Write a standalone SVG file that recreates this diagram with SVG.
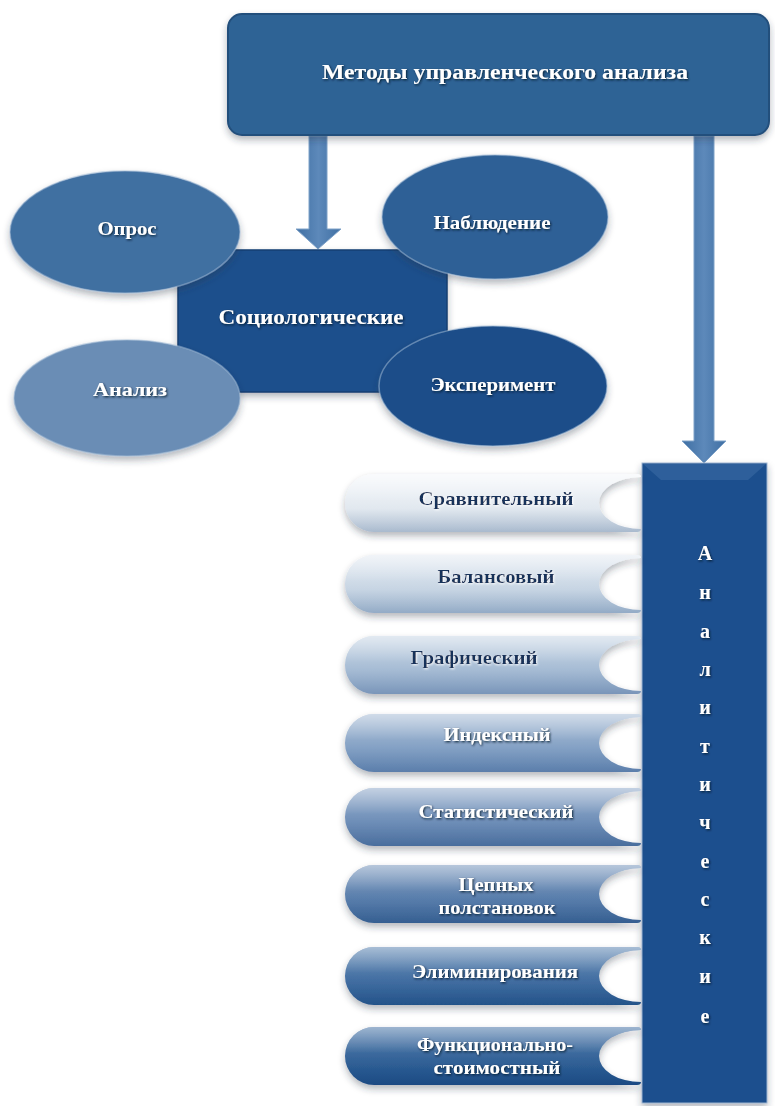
<svg xmlns="http://www.w3.org/2000/svg" xmlns:xlink="http://www.w3.org/1999/xlink" width="775" height="1106" viewBox="0 0 775 1106">
<style>
  .t { font-family: "Liberation Serif", "Times New Roman", serif; font-weight: bold; text-anchor: middle; }
  .w { fill: #ffffff; filter: url(#txtsh); }
  .d { fill: #16305a; filter: url(#txtglow); }
  .edge { stroke: #9fb8d4; stroke-opacity: 0.55; stroke-width: 1.5; }
</style>
<defs>
  <filter id="sh" x="-20%" y="-20%" width="140%" height="150%">
    <feDropShadow dx="0" dy="4" stdDeviation="3.5" flood-color="#2a3440" flood-opacity="0.35"/>
  </filter>
  <filter id="txtsh" x="-10%" y="-30%" width="120%" height="160%">
    <feDropShadow dx="1" dy="1.2" stdDeviation="0.8" flood-color="#061529" flood-opacity="0.9"/>
  </filter>
  <filter id="txtglow" x="-10%" y="-30%" width="120%" height="160%">
    <feDropShadow dx="0.8" dy="1" stdDeviation="0.9" flood-color="#ffffff" flood-opacity="1"/>
  </filter>
  <linearGradient id="gloss" x1="0" y1="0" x2="0" y2="1">
    <stop offset="0" stop-color="#ffffff" stop-opacity="0.5"/>
    <stop offset="0.45" stop-color="#ffffff" stop-opacity="0.1"/>
    <stop offset="1" stop-color="#ffffff" stop-opacity="0"/>
  </linearGradient>
  <linearGradient id="arrowg" x1="0" y1="0" x2="1" y2="0">
    <stop offset="0" stop-color="#3f6fa3"/>
    <stop offset="0.5" stop-color="#5d89ba"/>
    <stop offset="1" stop-color="#3f6fa3"/>
  </linearGradient>
  <linearGradient id="p1" x1="0" y1="0" x2="0" y2="1"><stop offset="0" stop-color="#f4f7fa"/><stop offset="0.6" stop-color="#dfe6ee"/><stop offset="1" stop-color="#a9bace"/></linearGradient>
  <linearGradient id="p2" x1="0" y1="0" x2="0" y2="1"><stop offset="0" stop-color="#e3eaf2"/><stop offset="0.6" stop-color="#c2d1e1"/><stop offset="1" stop-color="#93abc6"/></linearGradient>
  <linearGradient id="p3" x1="0" y1="0" x2="0" y2="1"><stop offset="0" stop-color="#c5d4e4"/><stop offset="0.6" stop-color="#9db5d0"/><stop offset="1" stop-color="#7995b9"/></linearGradient>
  <linearGradient id="p4" x1="0" y1="0" x2="0" y2="1"><stop offset="0" stop-color="#a2b8d3"/><stop offset="0.6" stop-color="#7898bf"/><stop offset="1" stop-color="#5b7eab"/></linearGradient>
  <linearGradient id="p5" x1="0" y1="0" x2="0" y2="1"><stop offset="0" stop-color="#88a3c6"/><stop offset="0.6" stop-color="#6184b1"/><stop offset="1" stop-color="#496d9d"/></linearGradient>
  <linearGradient id="p6" x1="0" y1="0" x2="0" y2="1"><stop offset="0" stop-color="#6f8fb8"/><stop offset="0.6" stop-color="#4a72a4"/><stop offset="1" stop-color="#355f91"/></linearGradient>
  <linearGradient id="p7" x1="0" y1="0" x2="0" y2="1"><stop offset="0" stop-color="#517cac"/><stop offset="0.6" stop-color="#316199"/><stop offset="1" stop-color="#245389"/></linearGradient>
  <linearGradient id="p8" x1="0" y1="0" x2="0" y2="1"><stop offset="0" stop-color="#3c6ba1"/><stop offset="0.6" stop-color="#21548e"/><stop offset="1" stop-color="#1a4a83"/></linearGradient>
  <path id="pill" d="M29,0 H292 Q296,0 296,3 A42 26 0 0 0 296 55 Q296 58 292 58 H29 A29 29 0 0 1 29 0 Z"/>
</defs>

<rect width="775" height="1106" fill="#ffffff"/>

<g id="connectors">
  <polygon points="309,136 327,136 327,229 341,229 318,249 296,229 309,229" fill="url(#arrowg)" stroke="#7fa2c8" stroke-width="1"/>
  <polygon points="694,136 714,136 714,441 726,441 704,463 682,441 694,441" fill="url(#arrowg)" stroke="#7fa2c8" stroke-width="1"/>
</g>

<g id="node-title">
  <rect x="228" y="14" width="541" height="121" rx="14" fill="#2f6395" stroke="#244f7c" stroke-width="2" filter="url(#sh)"/>
  <text class="t w" x="505" y="79" font-size="20" textLength="366" lengthAdjust="spacingAndGlyphs">Методы управленческого  анализа</text>
</g>

<g id="node-socio">
  <rect x="178" y="250" width="269" height="142" fill="#1c4f8c" stroke="#163f72" stroke-width="1.5" filter="url(#sh)"/>
  <text class="t w" x="311" y="324" font-size="20.5" textLength="185" lengthAdjust="spacingAndGlyphs">Социологические</text>
</g>

<g id="node-opros">
  <ellipse cx="125" cy="232" rx="115" ry="61" fill="#416fa1" class="edge" filter="url(#sh)"/>
  <text class="t w" x="127" y="235" font-size="18" textLength="59" lengthAdjust="spacingAndGlyphs">Опрос</text>
</g>

<g id="node-nabl">
  <ellipse cx="495" cy="217" rx="113" ry="62" fill="#2e6096" class="edge" filter="url(#sh)"/>
  <text class="t w" x="492" y="229" font-size="18" textLength="117" lengthAdjust="spacingAndGlyphs">Наблюдение</text>
</g>

<g id="node-analiz">
  <ellipse cx="127" cy="398" rx="113" ry="58" fill="#6a8db5" class="edge" filter="url(#sh)"/>
  <text class="t w" x="130" y="396" font-size="18" textLength="74" lengthAdjust="spacingAndGlyphs">Анализ</text>
</g>

<g id="node-eksp">
  <ellipse cx="493" cy="386" rx="114" ry="60" fill="#1b4d89" class="edge" filter="url(#sh)"/>
  <text class="t w" x="493" y="391" font-size="18" textLength="125" lengthAdjust="spacingAndGlyphs">Эксперимент</text>
</g>

<g id="node-analytic">
  <rect x="642" y="463" width="125" height="640" fill="#1b4f8e" stroke="#9db4cf" stroke-width="1" filter="url(#sh)"/>
  <polygon points="643,464 766,464 748,480 661,480" fill="#3a6aa3" opacity="0.6"/>
  <g class="t w" font-size="20">
    <text x="705" y="560">А</text>
    <text x="705" y="599">н</text>
    <text x="705" y="638">а</text>
    <text x="705" y="676">л</text>
    <text x="705" y="714">и</text>
    <text x="705" y="753">т</text>
    <text x="705" y="791">и</text>
    <text x="705" y="829">ч</text>
    <text x="705" y="868">е</text>
    <text x="705" y="906">с</text>
    <text x="705" y="944">к</text>
    <text x="705" y="983">и</text>
    <text x="705" y="1023">е</text>
  </g>
</g>

<g id="node-sravn">
  <use xlink:href="#pill" x="345" y="474" fill="url(#p1)" filter="url(#sh)"/>
  <use xlink:href="#pill" x="345" y="474" fill="url(#gloss)"/>
  <text class="t d" x="496" y="505" font-size="19" textLength="155" lengthAdjust="spacingAndGlyphs">Сравнительный</text>
</g>

<g id="node-balans">
  <use xlink:href="#pill" x="345" y="555" fill="url(#p2)" filter="url(#sh)"/>
  <use xlink:href="#pill" x="345" y="555" fill="url(#gloss)"/>
  <text class="t d" x="496" y="583" font-size="19" textLength="117" lengthAdjust="spacingAndGlyphs">Балансовый</text>
</g>

<g id="node-graf">
  <use xlink:href="#pill" x="345" y="636" fill="url(#p3)" filter="url(#sh)"/>
  <use xlink:href="#pill" x="345" y="636" fill="url(#gloss)"/>
  <text class="t d" x="474" y="664" font-size="19" textLength="127" lengthAdjust="spacingAndGlyphs">Графический</text>
</g>

<g id="node-index">
  <use xlink:href="#pill" x="345" y="714" fill="url(#p4)" filter="url(#sh)"/>
  <use xlink:href="#pill" x="345" y="714" fill="url(#gloss)"/>
  <text class="t w" x="497" y="741" font-size="19" textLength="107" lengthAdjust="spacingAndGlyphs">Индексный</text>
</g>

<g id="node-stat">
  <use xlink:href="#pill" x="345" y="788" fill="url(#p5)" filter="url(#sh)"/>
  <use xlink:href="#pill" x="345" y="788" fill="url(#gloss)"/>
  <text class="t w" x="496" y="818" font-size="19" textLength="155" lengthAdjust="spacingAndGlyphs">Статистический</text>
</g>

<g id="node-cepn">
  <use xlink:href="#pill" x="345" y="865" fill="url(#p6)" filter="url(#sh)"/>
  <use xlink:href="#pill" x="345" y="865" fill="url(#gloss)"/>
  <text class="t w" x="496" y="891" font-size="19" textLength="75" lengthAdjust="spacingAndGlyphs">Цепных</text>
  <text class="t w" x="497" y="914" font-size="19" textLength="117" lengthAdjust="spacingAndGlyphs">полстановок</text>
</g>

<g id="node-elim">
  <use xlink:href="#pill" x="345" y="947" fill="url(#p7)" filter="url(#sh)"/>
  <use xlink:href="#pill" x="345" y="947" fill="url(#gloss)"/>
  <text class="t w" x="495" y="978" font-size="19" textLength="166" lengthAdjust="spacingAndGlyphs">Элиминирования</text>
</g>

<g id="node-func">
  <use xlink:href="#pill" x="345" y="1027" fill="url(#p8)" filter="url(#sh)"/>
  <use xlink:href="#pill" x="345" y="1027" fill="url(#gloss)"/>
  <text class="t w" x="495" y="1051" font-size="19" textLength="156" lengthAdjust="spacingAndGlyphs">Функционально-</text>
  <text class="t w" x="497" y="1074" font-size="19" textLength="127" lengthAdjust="spacingAndGlyphs">стоимостный</text>
</g>
</svg>
